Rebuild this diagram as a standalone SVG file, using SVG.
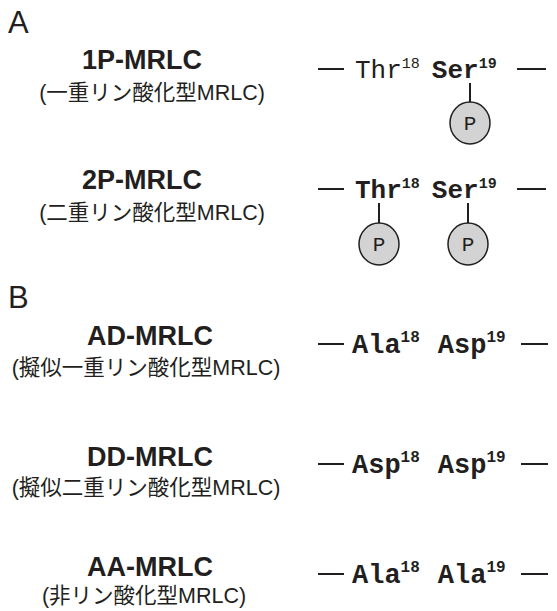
<svg xmlns="http://www.w3.org/2000/svg" width="557" height="611" viewBox="0 0 557 611">
<style>
.lbl{font-family:"Liberation Sans",Arial,sans-serif;font-size:31px;fill:#231f20}
.title{font-family:"Liberation Sans",Arial,sans-serif;font-size:27px;font-weight:bold;fill:#231f20;text-anchor:middle}
.sub{font-family:"Liberation Sans","Noto Sans CJK JP",sans-serif;font-size:21.5px;fill:#231f20;text-anchor:middle}
.res{font-family:"Liberation Mono","Courier New",monospace;font-size:26px;fill:#231f20}
.resB{font-family:"Liberation Mono","Courier New",monospace;font-size:27px;font-weight:bold;fill:#231f20}
.b{font-weight:bold}
.sup{font-size:15px}
.supB{font-size:16px}
.dash{stroke:#231f20;stroke-width:2}
.stick{stroke:#231f20;stroke-width:2}
.p{fill:#d3d3d3;stroke:#231f20;stroke-width:1.5}
.pt{font-family:"Liberation Mono","Courier New",monospace;font-size:21px;fill:#231f20;text-anchor:middle}
</style>
<text class="lbl" x="8" y="33">A</text>
<text class="lbl" x="8" y="308">B</text>
<g id="n1P">
<text class="title" x="142" y="69">1P-MRLC</text>
<text class="sub" x="152" y="100">(一重リン酸化型MRLC)</text>
<text class="res" x="355" y="78">Thr<tspan class="sup" dy="-10">18</tspan><tspan class="b" dx="12" dy="10">Ser</tspan><tspan class="sup b" dy="-10">19</tspan></text>
</g>
<g id="n2P">
<text class="title" x="142" y="189">2P-MRLC</text>
<text class="sub" x="152" y="220">(二重リン酸化型MRLC)</text>
<text class="res b" x="355" y="198">Thr<tspan class="sup" dy="-10">18</tspan><tspan dx="12" dy="10">Ser</tspan><tspan class="sup" dy="-10">19</tspan></text>
</g>
<g id="nAD">
<text class="title" x="150" y="345">AD-MRLC</text>
<text class="sub" x="146" y="375">(擬似一重リン酸化型MRLC)</text>
<text class="resB" x="352" y="353">Ala<tspan class="supB" dy="-11">18</tspan><tspan dx="18" dy="11">Asp</tspan><tspan class="supB" dy="-11">19</tspan></text>
</g>
<g id="nDD">
<text class="title" x="150" y="466">DD-MRLC</text>
<text class="sub" x="146" y="495">(擬似二重リン酸化型MRLC)</text>
<text class="resB" x="352" y="473">Asp<tspan class="supB" dy="-11">18</tspan><tspan dx="18" dy="11">Asp</tspan><tspan class="supB" dy="-11">19</tspan></text>
</g>
<g id="nAA">
<text class="title" x="150" y="576">AA-MRLC</text>
<text class="sub" x="144" y="603">(非リン酸化型MRLC)</text>
<text class="resB" x="352" y="583">Ala<tspan class="supB" dy="-11">18</tspan><tspan dx="18" dy="11">Ala</tspan><tspan class="supB" dy="-11">19</tspan></text>
</g>
<g id="phos">
<g id="p1"><ellipse class="p" cx="470" cy="123" rx="20" ry="21"/><text class="pt" x="470" y="130">P</text></g>
<g id="p2a"><ellipse class="p" cx="379" cy="244" rx="20" ry="21"/><text class="pt" x="379" y="251">P</text></g>
<g id="p2b"><ellipse class="p" cx="468" cy="244" rx="20" ry="21"/><text class="pt" x="468" y="251">P</text></g>
</g>
<g id="connectors">
<line class="dash" x1="318" y1="69" x2="344" y2="69"/><line class="dash" x1="517" y1="69" x2="546" y2="69"/>
<line class="dash" x1="318" y1="189" x2="344" y2="189"/><line class="dash" x1="517" y1="189" x2="546" y2="189"/>
<line class="dash" x1="318" y1="344" x2="344" y2="344"/><line class="dash" x1="521" y1="344" x2="548" y2="344"/>
<line class="dash" x1="318" y1="464" x2="344" y2="464"/><line class="dash" x1="521" y1="464" x2="548" y2="464"/>
<line class="dash" x1="318" y1="574" x2="344" y2="574"/><line class="dash" x1="521" y1="574" x2="548" y2="574"/>
<line class="stick" x1="470" y1="83" x2="470" y2="102"/>
<line class="stick" x1="379" y1="203" x2="379" y2="223"/>
<line class="stick" x1="468" y1="203" x2="468" y2="223"/>
</g>
</svg>
